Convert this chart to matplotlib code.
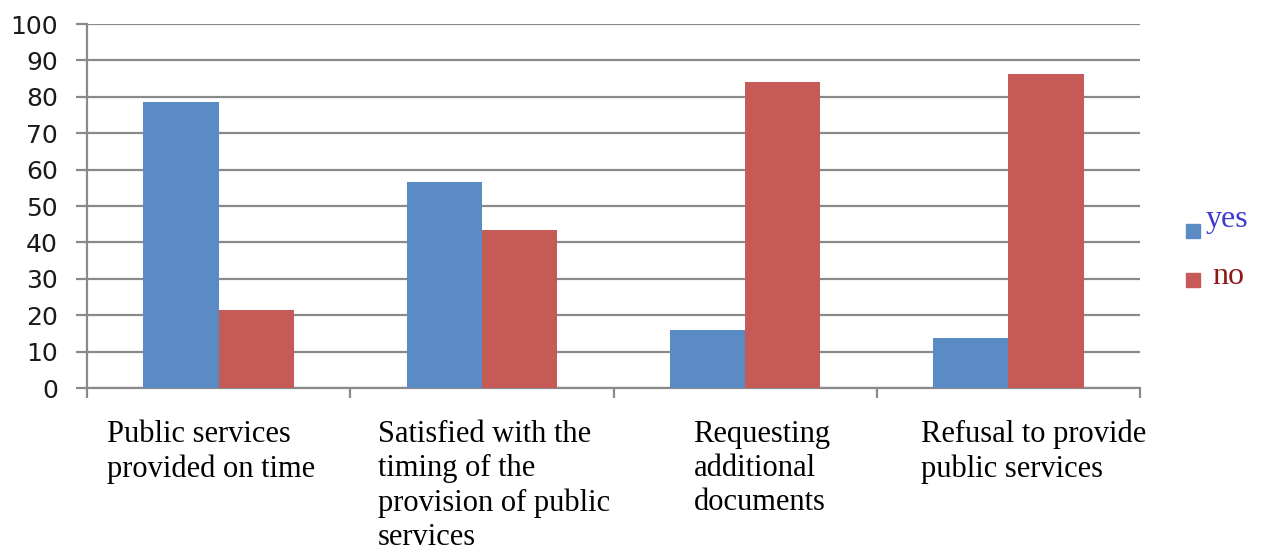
"""
Public services survey: yes / no shares per question
"""

import matplotlib.pyplot as plt
import matplotlib.patches as patches
import numpy as np

categories = [
    'Public services\nprovided on time',
    'Satisfied with the\ntiming of the\nprovision of public\nservices',
    'Requesting\nadditional\ndocuments',
    'Refusal to provide\npublic services',
]
yes_values = [78.6, 56.5, 16.0, 13.7]
no_values = [21.4, 43.5, 84.0, 86.3]
y_ticks = list(range(0, 101, 10))

# left edge of each category label, as offset from the category centre
label_dx = [-0.424, -0.394, -0.196, -0.333]

BLUE = '#5B8BC5'
RED = '#C55A56'
GRID = '#8A8A8A'

fig = plt.figure(figsize=(12.68, 5.5), dpi=100)
ax = fig.add_axes([87 / 1268, 1 - 388 / 550, (1140 - 87) / 1268, (388 - 24) / 550])

x = np.arange(len(categories))
w = 1 / 3.5
ax.bar(x - w / 2, yes_values, w, color=BLUE, zorder=3)
ax.bar(x + w / 2, no_values, w, color=RED, zorder=3)

ax.set_xlim(-0.5, len(categories) - 0.5)
ax.set_ylim(0, 100)
ax.set_yticks(y_ticks)
ax.set_yticklabels([str(t) for t in y_ticks], fontsize=18, color='#1a1a1a')
ax.yaxis.grid(True, color=GRID, lw=1.6, zorder=0)
ax.tick_params(axis='y', length=8, width=1.6, color=GRID, pad=13)

# category boundaries as x ticks
ax.set_xticks(np.arange(-0.5, len(categories)))
ax.set_xticklabels([])
ax.tick_params(axis='x', length=7, width=1.6, color=GRID)

for side in ['top', 'right']:
    ax.spines[side].set_visible(False)
for side in ['left', 'bottom']:
    ax.spines[side].set_color(GRID)
    ax.spines[side].set_linewidth(1.6)

for i, (lab, dx) in enumerate(zip(categories, label_dx)):
    ax.text(i + dx, -8.7, lab, ha='left', va='top', fontsize=22,
            family='Liberation Serif', linespacing=1.24, clip_on=False)

# legend, drawn by hand like the original
fig.patches.append(patches.Rectangle((1186 / 1268, 1 - 238 / 550), 14 / 1268, 14 / 550,
                                     transform=fig.transFigure, color=BLUE))
fig.patches.append(patches.Rectangle((1186 / 1268, 1 - 287 / 550), 14 / 1268, 14 / 550,
                                     transform=fig.transFigure, color=RED))
fig.text(1206 / 1268, 1 - 219 / 550, 'yes', fontsize=23, family='Liberation Serif',
         color='#3B3BD0', va='center', ha='left')
fig.text(1212 / 1268, 1 - 277 / 550, 'no', fontsize=23, family='Liberation Serif',
         color='#8B1A1A', va='center', ha='left')

fig.savefig('out.png', dpi=100)
